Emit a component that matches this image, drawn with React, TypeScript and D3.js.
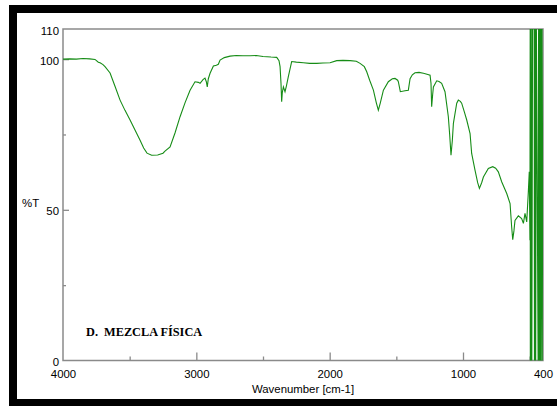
import React, { useEffect, useRef } from "react";
import * as d3 from "d3";

// wavenumber (cm-1) and %T
const wavenumbers = [
  4000, 3950, 3900, 3850, 3800, 3760, 3735, 3722, 3700, 3685, 3647, 3610, 3572, 3535, 3497,
  3460, 3422, 3395, 3370, 3335, 3290, 3250, 3235, 3197, 3160, 3122, 3085, 3047, 3010, 2985,
  2972, 2950, 2935, 2925, 2918, 2910, 2897, 2872, 2850, 2835, 2822, 2790, 2747, 2700, 2650,
  2597, 2550, 2500, 2440, 2397, 2380, 2372, 2365, 2360, 2355, 2347, 2335, 2325, 2310, 2285,
  2250, 2197, 2150, 2097, 2050, 1997, 1947, 1900, 1847, 1800, 1772, 1740, 1722, 1700, 1672,
  1650, 1635, 1620, 1597, 1560, 1530, 1510, 1490, 1485, 1470, 1435, 1410, 1397, 1380, 1360,
  1330, 1297, 1270, 1247, 1240, 1235, 1228, 1222, 1197, 1180, 1160, 1135, 1110, 1100, 1090,
  1080, 1072, 1047, 1035, 1020, 1010, 990, 972, 947, 935, 910, 890, 877, 860, 847,
  810, 777, 755, 735, 710, 672, 647, 635, 627, 618, 610, 585, 560, 547, 535,
  522, 510, 503, 498,
];
const transmittance = [
  100, 100.1, 100, 100.2, 100.1, 99.9, 99.0, 98.8, 98.2, 97.5, 95.4, 91, 86.4, 83, 79.8,
  76.5, 73.1, 70.5, 68.8, 68.1, 68.2, 68.8, 69.5, 70.9, 75.5, 80.9, 85.5, 89.7, 92.5, 92.3,
  92, 93.2, 93.7, 92.5, 90.8, 93.5, 95.3, 97.7, 98, 98.3, 99.7, 100.5, 101, 101.2, 101.1,
  101.1, 101.2, 100.9, 100.7, 100.6, 99.5, 97.5, 92, 85.9, 89, 90.8, 89.2, 91, 94.2, 99.2,
  99, 98.8, 98.6, 98.6, 98.7, 98.8, 99.5, 99.6, 99.5, 99.3, 98.6, 97.5, 95.8, 93, 89.7,
  85.5, 83.1, 85.5, 89.7, 92.5, 93.5, 93.6, 93, 92.5, 89.2, 89.5, 89.7, 93.5, 94.8, 95.5,
  95.6, 95.3, 95, 94.7, 92, 84.2, 88, 90.8, 92.8, 92.6, 92, 89.2, 80.9, 75, 68.1,
  73, 78.7, 85.4, 86.4, 86, 85.4, 82.5, 79.8, 75.3, 68.7, 63.2, 59, 57.1, 59, 60.9,
  63.7, 64.3, 63.8, 62.6, 59.3, 55.4, 52.1, 44.3, 40.1, 43, 46.5, 48, 47.1, 45.5, 48.8,
  46, 56, 62.6, 39.9,
];

// detector noise below 500 cm-1 swings past the whole scale
const noiseWavenumbers = [
  496, 495, 494, 493, 492, 490, 488, 484, 478, 466, 464, 462, 460, 458, 455, 450,
  436, 433, 430, 427, 424, 420, 416, 412, 406, 400,
];
const noiseTransmittance = [
  115, -5, 115, -5, 115, -5, 115, -5, 115, 115, -5, 115, -5, 115, -5, 115,
  -5, 115, -5, 115, -5, 115, -5, 115, -5, 115,
];

const xMajor = [3000, 2000, 1000];
const xMinor = [3500, 2500, 1500, 500];
const xLabels = [4000, 3000, 2000, 1000, 400];
const yMajor = [100, 50];
const yMinor = [75, 25];
const yLabels = [110, 100, 50, 0];

const W = 557;
const H = 406;
const plot = { left: 63, right: 543, top: 29, bottom: 360.5 };
const axisGrey = "#8a8a8a";
const font = "'Liberation Sans', Arial, sans-serif";

export default function App() {
  const ref = useRef<SVGGElement>(null);

  const x = d3.scaleLinear().domain([4000, 400]).range([plot.left, plot.right]);
  const y = d3.scaleLinear().domain([0, 110]).range([plot.bottom, plot.top]);

  const points: [number, number][] = wavenumbers.map((w, i) => [w, transmittance[i]]);
  noiseWavenumbers.forEach((w, i) => points.push([w, noiseTransmittance[i]]));
  const line = d3
    .line<[number, number]>()
    .x((d) => x(d[0]))
    .y((d) => y(d[1]));

  useEffect(() => {
    const g = d3.select(ref.current);
    g.selectAll("*").remove();

    const bottom = (vals: number[], size: number) =>
      g
        .append("g")
        .attr("transform", `translate(0,${plot.bottom})`)
        .call(d3.axisBottom(x).tickValues(vals).tickSize(size).tickFormat(() => ""));
    const left = (vals: number[], size: number) =>
      g
        .append("g")
        .attr("transform", `translate(${plot.left},0)`)
        .call(d3.axisLeft(y).tickValues(vals).tickSize(size).tickFormat(() => ""));

    bottom(xMajor, -8);
    bottom(xMinor, -4);
    left(yMajor, -6);
    left(yMinor, -3);

    const xl = g
      .append("g")
      .attr("transform", `translate(0,${plot.bottom})`)
      .call(d3.axisBottom(x).tickValues(xLabels).tickSize(0).tickPadding(9.5).tickFormat(d3.format("d")));
    const yl = g
      .append("g")
      .attr("transform", `translate(${plot.left},0)`)
      .call(d3.axisLeft(y).tickValues(yLabels).tickSize(0).tickPadding(4).tickFormat(d3.format("d")));

    g.selectAll(".domain").remove();
    g.selectAll(".tick line").attr("stroke", axisGrey).attr("stroke-width", 1.3);
    [xl, yl].forEach((a) =>
      a.selectAll("text").attr("font-family", font).attr("font-size", 11.4).attr("fill", "#000")
    );
    yl.selectAll("text").attr("dy", "0.45em");
  }, []);

  return (
    <svg
      width={W}
      height={H}
      style={{ position: "absolute", left: 0, top: 0, background: "#fff", overflow: "hidden" }}
    >
      <defs>
        <clipPath id="plotClip">
          <rect x={plot.left} y={plot.top} width={plot.right - plot.left} height={plot.bottom - plot.top} />
        </clipPath>
      </defs>
      {/* black frame: top, left and bottom bands only */}
      <rect x={9} y={5} width={W - 9} height={8} fill="#000" />
      <rect x={9} y={5} width={8} height={H - 5} fill="#000" />
      <rect x={9} y={399} width={W - 9} height={H - 399} fill="#000" />
      <rect
        x={plot.left}
        y={plot.top}
        width={plot.right - plot.left}
        height={plot.bottom - plot.top}
        fill="none"
        stroke={axisGrey}
        strokeWidth={1.5}
      />
      <g ref={ref} />
      <path
        d={line(points) ?? ""}
        fill="none"
        stroke="#168c16"
        strokeWidth={1.1}
        clipPath="url(#plotClip)"
      />
      <text x={303} y={393} textAnchor="middle" fontFamily={font} fontSize={11.4}>
        Wavenumber [cm-1]
      </text>
      <text x={22} y={206.5} fontFamily={font} fontSize={11.4}>
        %T
      </text>
      <text
        x={86}
        y={336}
        fontFamily="'Liberation Serif', 'Times New Roman', serif"
        fontWeight="bold"
        fontSize={12.3}
        style={{ whiteSpace: "pre" }}
      >
        {"D.  MEZCLA FÍSICA"}
      </text>
    </svg>
  );
}
